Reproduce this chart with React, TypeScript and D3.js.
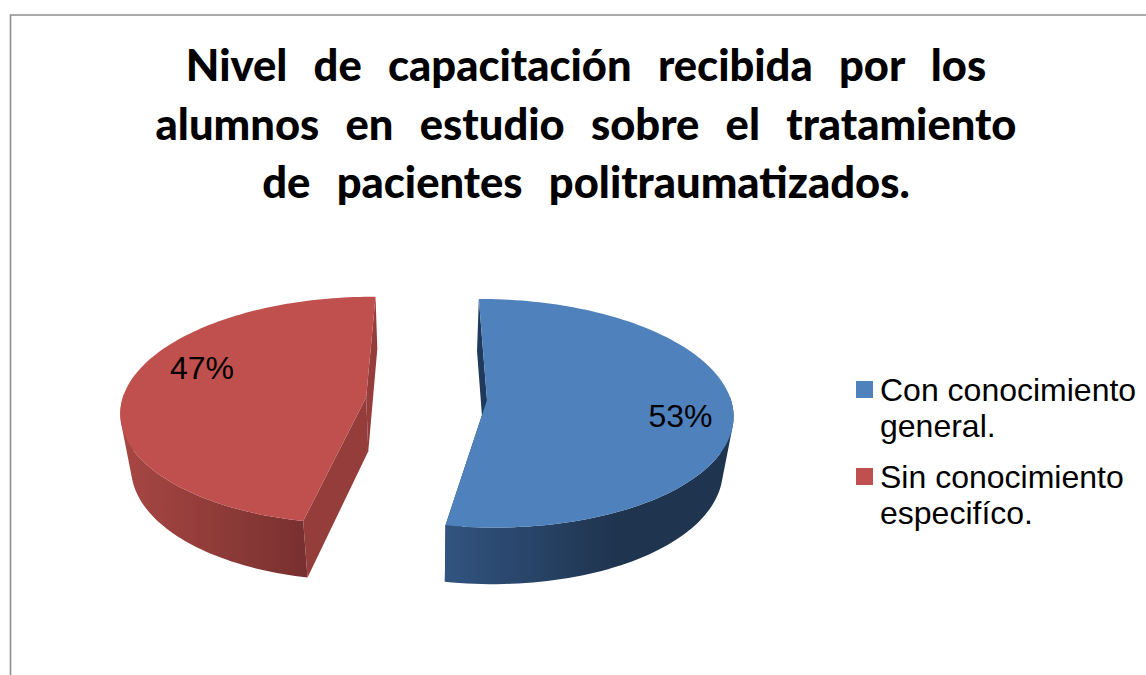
import React, { useEffect, useRef } from 'react';
import * as d3 from 'd3';

const values = [53, 47];
const pctLabels = ['53%', '47%'];
const legendLines = [['Con conocimiento', 'general.'], ['Sin conocimiento', 'especifíco.']];
const titleLines = [
  'Nivel  de  capacitación  recibida  por  los',
  'alumnos  en  estudio  sobre  el  tratamiento',
  'de  pacientes  politraumatizados.',
];

const topColors = ['#4f81bd', '#c0504d'];
const sideFrom = ['#315480', '#a84743'];
const sideTo = ['#1f344f', '#783130'];
const radialColors = ['#1f3a5c', '#953d3b'];

// camera of the 3d pie
const R = 244;
const D = 2100;
const vx = 427;
const vy = 400;
const tilt = 0.462;
const depth = 54;
const shrink = 0.00065;
const explode = [{ x: 60, y: 0, rot: -0.5 }, { x: -61, y: 6, rot: 0.8 }];
const labelPos = [{ x: 680.5, y: 427 }, { x: 202, y: 379 }];

const rad = (d: number) => (d * Math.PI) / 180;

function project(u: number, v: number, z: number): [number, number] {
  const s = D / (D + v);
  const sz = 1 - z * shrink;
  return [vx + u * s * sz, vy - tilt * v * s * sz + z * s];
}

export default function App() {
  const svgRef = useRef<SVGSVGElement>(null);

  useEffect(() => {
    const svg = d3.select(svgRef.current);
    svg.selectAll('*').remove();

    const defs = svg.append('defs');
    const arcs = d3.pie<number>().sort(null).startAngle(0).endAngle(2 * Math.PI)(values);
    const line = d3.line();

    // border
    svg.append('path')
      .attr('d', 'M10.5,675V15H1146')
      .attr('fill', 'none')
      .attr('stroke', '#8e8e8e')
      .attr('stroke-width', 1.6);

    svg.append('g')
      .attr('text-anchor', 'middle')
      .attr('font-family', 'Lato, sans-serif')
      .attr('font-weight', 900)
      .attr('font-size', 43.5)
      .attr('word-spacing', 2.8)
      .selectAll('text').data(titleLines).enter().append('text')
      .attr('x', 586)
      .attr('y', (d, i) => 81 + i * 58.5)
      .style('white-space', 'pre')
      .text(d => d);

    arcs.forEach((a, i) => {
      const e = explode[i];
      const t0 = a.startAngle + rad(e.rot);
      const t1 = a.endAngle + rad(e.rot);
      const ground = (t: number, z: number) =>
        project(e.x + R * Math.sin(t), e.y + R * Math.cos(t), z);
      const apex = (z: number) => project(e.x, e.y, z);
      const rim = d3.range(0, 121).map(k => t0 + ((t1 - t0) * k) / 120);
      const front = rim.filter(t => Math.cos(t) < 0.05);

      const gradId = `side${i}`;
      const xs = front.map(t => ground(t, 0)[0]);
      const grad = defs.append('linearGradient')
        .attr('id', gradId)
        .attr('gradientUnits', 'userSpaceOnUse')
        .attr('x1', d3.min(xs)!)
        .attr('x2', i === 0 ? d3.min(xs)! + 170 : ground(t0, 0)[0])
        .attr('y1', 0)
        .attr('y2', 0);
      grad.append('stop').attr('offset', 0).attr('stop-color', sideFrom[i]);
      grad.append('stop').attr('offset', 1).attr('stop-color', sideTo[i]);

      const g = svg.append('g');
      // the two cut walls
      [t0, t1].forEach(t => {
        g.append('path')
          .attr('d', line([apex(0), ground(t, 0), ground(t, depth), apex(depth)]) + 'Z')
          .attr('fill', radialColors[i]);
      });
      // outer wall: strips in one path, all wound the same way, so there are no
      // seams and the outline runs straight from the top rim to the bottom rim
      const strips = d3.pairs(front)
        .map(([p, q]) => {
          const quad = [ground(p, 0), ground(q, 0), ground(q, depth), ground(p, depth)];
          if (d3.polygonArea(quad) < 0) quad.reverse();
          return line(quad) + 'Z';
        })
        .join('');
      g.append('path').attr('d', strips).attr('fill', `url(#${gradId})`);
      // top face
      g.append('path')
        .attr('d', line([apex(0), ...rim.map(t => ground(t, 0))]) + 'Z')
        .attr('fill', topColors[i]);

      g.append('text')
        .attr('x', labelPos[i].x)
        .attr('y', labelPos[i].y)
        .attr('text-anchor', 'middle')
        .attr('font-family', '"Liberation Sans", Arial, sans-serif')
        .attr('font-size', 32)
        .attr('fill', '#000')
        .text(pctLabels[i]);
    });

    // legend
    const legend = svg.append('g')
      .attr('font-family', '"Liberation Sans", Arial, sans-serif')
      .attr('font-size', 32)
      .attr('fill', '#000');
    legendLines.forEach((lines, i) => {
      const y0 = 400.5 + i * 87;
      legend.append('rect')
        .attr('x', 856).attr('y', y0 - 19.5).attr('width', 17).attr('height', 17)
        .attr('fill', topColors[i]);
      lines.forEach((t, j) => {
        legend.append('text').attr('x', 880).attr('y', y0 + j * 36).text(t);
      });
    });
  }, []);

  return (
    <svg
      ref={svgRef}
      width={1146}
      height={675}
      style={{ position: 'absolute', left: 0, top: 0, background: '#fff' }}
    />
  );
}
